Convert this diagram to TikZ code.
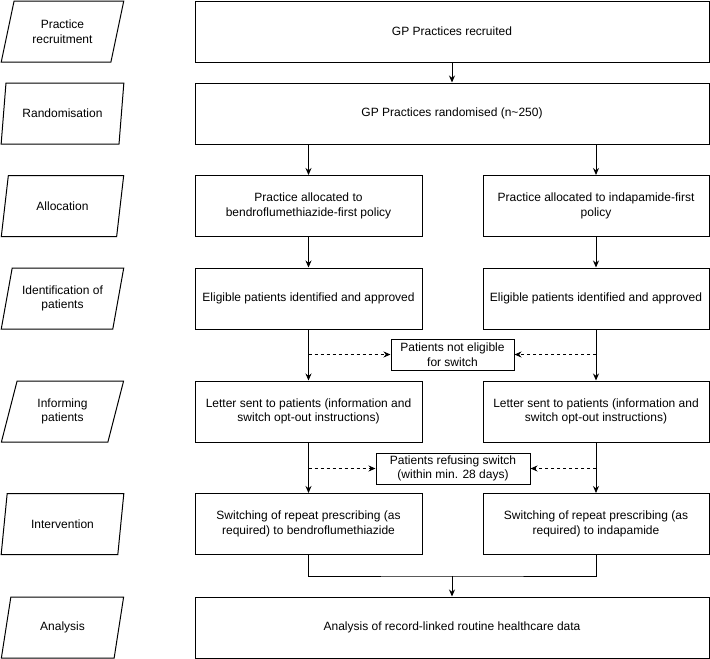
\documentclass[tikz,border=0pt]{standalone}
\usepackage{fontspec}
\setmainfont{Liberation Sans}
\usepackage{tikz}
\usetikzlibrary{shapes.geometric}
\usetikzlibrary{arrows.meta}
\usetikzlibrary{positioning}

\begin{document}
\begin{tikzpicture}[
  x=1pt, y=1pt,
  every node/.style={font=\fontsize{12}{14.5}\selectfont, align=center, line width=1pt},
  stage/.style={trapezium, draw, trapezium left angle=72, trapezium right angle=108,
    trapezium stretches=true, minimum height=61pt, minimum width=123pt, inner sep=1pt},
  box/.style={rectangle, draw, minimum height=61pt, inner sep=2pt},
  note/.style={rectangle, draw, minimum height=31pt, inner sep=2pt},
  arr/.style={-{Stealth[length=7pt,width=6pt]}, line width=1pt},
  dasharr/.style={arr, dash pattern=on 3pt off 3pt}
]
\useasboundingbox (0,0) rectangle (710,-659);

% stages on the left
\node[stage] (s1) at (62.5,-31.5) {Practice\\recruitment};
\node[stage] (s2) at (62.5,-113.5) {Randomisation};
\node[stage] (s3) at (62.5,-206) {Allocation};
\node[stage] (s4) at (62.5,-298.5) {Identification of\\patients};
\node[stage] (s5) at (62.5,-411.5) {Informing\\patients};
\node[stage] (s6) at (62.5,-524) {Intervention};
\node[stage] (s7) at (62.5,-627.5) {Analysis};

% main flow
\node[box, minimum width=514pt] (recruit) at (452,-31.5) {GP Practices recruited};
\node[box, minimum width=514pt] (random) at (452,-113.5) {GP Practices randomised (n\textasciitilde250)};
\node[box, minimum width=227pt] (allocB) at (308.5,-206) {Practice allocated to\\bendroflumethiazide-first policy};
\node[box, minimum width=226pt] (allocI) at (596,-206) {Practice allocated to indapamide-first\\policy};
\node[box, minimum width=227pt] (eligB) at (308.5,-298.5) {Eligible patients identified and approved};
\node[box, minimum width=226pt] (eligI) at (596,-298.5) {Eligible patients identified and approved};
\node[box, minimum width=227pt] (letterB) at (308.5,-411.5) {Letter sent to patients (information and\\switch opt-out instructions)};
\node[box, minimum width=226pt] (letterI) at (596,-411.5) {Letter sent to patients (information and\\switch opt-out instructions)};
\node[box, minimum width=227pt] (switchB) at (308.5,-524) {Switching of repeat prescribing (as\\required) to bendroflumethiazide};
\node[box, minimum width=226pt] (switchI) at (596,-524) {Switching of repeat prescribing (as\\required) to indapamide};
\node[box, minimum width=514pt] (analysis) at (452,-627.5) {Analysis of record-linked routine healthcare data};

% exclusions
\node[note, minimum width=123pt] (noteelig) at (452.5,-354.5) {Patients not eligible\\for switch};
\node[note, minimum width=154pt] (noterefuse) at (453,-468.5) {Patients refusing switch\\(within min. 28 days)};

\draw[arr] (recruit) -- (random);
\draw[arr] (random.south -| allocB.north) -- (allocB.north);
\draw[arr] (random.south -| allocI.north) -- (allocI.north);
\draw[arr] (allocB) -- (eligB);
\draw[arr] (allocI) -- (eligI);
\draw[arr] (eligB) -- (letterB);
\draw[arr] (eligI) -- (letterI);
\draw[arr] (letterB) -- (switchB);
\draw[arr] (letterI) -- (switchI);

\draw[dasharr] (eligB.south |- noteelig.west) -- (noteelig.west);
\draw[dasharr] (eligI.south |- noteelig.east) -- (noteelig.east);
\draw[dasharr] (letterB.south |- noterefuse.west) -- (noterefuse.west);
\draw[dasharr] (letterI.south |- noterefuse.east) -- (noterefuse.east);

\coordinate (join) at (analysis.north |- 0,-576);
\draw[line width=1pt] (switchB.south) |- (join) -| (switchI.south);
\draw[arr] (join) -- (analysis.north);
\end{tikzpicture}
\end{document}
